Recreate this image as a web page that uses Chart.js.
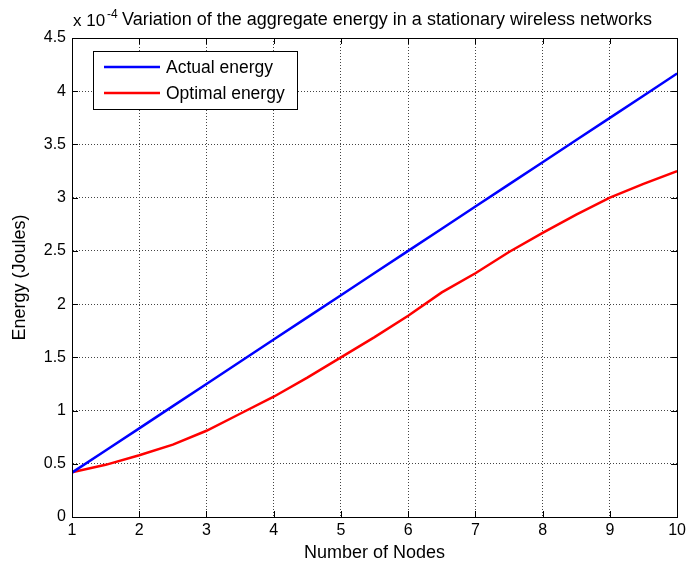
<!DOCTYPE html>
<html>
<head>
<meta charset="utf-8">
<script src="https://cdn.jsdelivr.net/npm/chart.js@4/dist/chart.umd.min.js"></script>
<style>
  html, body { margin: 0; padding: 0; background: #fff; }
  #wrap { position: relative; width: 690px; height: 568px; }
</style>
</head>
<body>
<div id="wrap"><canvas id="energyChart" width="690" height="568"></canvas></div>
<script>
// Energy vs number of nodes (values in units of 1e-4 J)
const nodes = [1, 1.5, 2, 2.5, 3, 3.5, 4, 4.5, 5, 5.5, 6, 6.5, 7, 7.5, 8, 8.5, 9, 9.5, 10];
const actualEnergy = [0.417, 0.625, 0.833, 1.042, 1.25, 1.458, 1.667, 1.875, 2.083, 2.292, 2.5,
                      2.708, 2.917, 3.125, 3.333, 3.542, 3.75, 3.958, 4.167];
const optimalEnergy = [0.42, 0.49, 0.58, 0.68, 0.81, 0.97, 1.13, 1.31, 1.50, 1.69, 1.89,
                       2.11, 2.29, 2.49, 2.67, 2.84, 3.00, 3.13, 3.25];
const seriesLabels = ['Actual energy', 'Optimal energy'];
const titleText = 'Variation of the aggregate energy in a stationary wireless networks';

const FONT = '"Liberation Sans", Arial, sans-serif';

function toPoints(xs, ys) {
    return xs.map(function (x, i) { return { x: x, y: ys[i] }; });
}

// frame, inward ticks, legend box and the "x 10^-4" title
const matlabDecor = {
    id: 'matlabDecor',
    afterDraw: function (chart) {
        const ctx = chart.ctx;
        const a = chart.chartArea;
        const xs = chart.scales.x, ys = chart.scales.y;
        ctx.save();

        // inward tick marks on all four sides
        ctx.strokeStyle = '#000';
        ctx.lineWidth = 1;
        ctx.beginPath();
        xs.ticks.forEach(function (t) {
            const px = Math.round(xs.getPixelForValue(t.value)) + 0.5;
            ctx.moveTo(px, a.bottom); ctx.lineTo(px, a.bottom - 6);
            ctx.moveTo(px, a.top); ctx.lineTo(px, a.top + 6);
        });
        ys.ticks.forEach(function (t) {
            const py = Math.round(ys.getPixelForValue(t.value)) + 0.5;
            ctx.moveTo(a.left, py); ctx.lineTo(a.left + 6, py);
            ctx.moveTo(a.right, py); ctx.lineTo(a.right - 6, py);
        });
        ctx.stroke();

        // box
        ctx.strokeRect(Math.round(a.left) + 0.5, Math.round(a.top) + 0.5,
                       Math.round(a.right - a.left), Math.round(a.bottom - a.top));

        // legend
        const lx = 93, ly = 51, lw = 204, lh = 58;
        ctx.fillStyle = '#fff';
        ctx.fillRect(lx, ly, lw, lh);
        ctx.strokeRect(lx + 0.5, ly + 0.5, lw, lh);
        ctx.font = '17.5px ' + FONT;
        ctx.textBaseline = 'middle';
        chart.data.datasets.forEach(function (ds, i) {
            const yy = ly + 16 + i * 26;
            ctx.strokeStyle = ds.borderColor;
            ctx.lineWidth = 2.5;
            ctx.beginPath();
            ctx.moveTo(lx + 11, yy); ctx.lineTo(lx + 67, yy);
            ctx.stroke();
            ctx.fillStyle = '#000';
            ctx.fillText(ds.label, lx + 73, yy + 1);
        });

        // title with exponent
        ctx.fillStyle = '#000';
        ctx.textBaseline = 'alphabetic';
        ctx.font = '17px ' + FONT;
        ctx.fillText('x 10', 73, 26);
        ctx.font = '12px ' + FONT;
        ctx.fillText('-4', 107, 18);
        ctx.font = '18px ' + FONT;
        ctx.fillText(titleText, 122, 25);
        ctx.restore();
    }
};

new Chart(document.getElementById('energyChart'), {
    type: 'line',
    data: {
        datasets: [
            {
                label: seriesLabels[0],
                data: toPoints(nodes, actualEnergy),
                borderColor: '#0000ff',
                borderWidth: 2.5,
                pointRadius: 0,
                tension: 0,
                fill: false
            },
            {
                label: seriesLabels[1],
                data: toPoints(nodes, optimalEnergy),
                borderColor: '#ff0000',
                borderWidth: 2.5,
                pointRadius: 0,
                tension: 0,
                fill: false
            }
        ]
    },
    options: {
        responsive: false,
        animation: false,
        layout: { padding: { left: 0, top: 38, right: 11, bottom: 0 } },
        plugins: {
            legend: { display: false },
            tooltip: { enabled: false },
            title: { display: false }
        },
        scales: {
            x: {
                type: 'linear',
                min: 1, max: 10,
                ticks: { stepSize: 1, color: '#000', font: { family: FONT, size: 16 }, padding: 4 },
                grid: { color: '#444', drawTicks: false, lineWidth: 1 },
                border: { display: true, color: '#000', dash: [1, 2] },
                title: { display: true, text: 'Number of Nodes', color: '#000',
                         font: { family: FONT, size: 18 }, padding: { top: 2, bottom: 4 } },
                afterFit: function (s) { s.height = 51; }
            },
            y: {
                min: 0, max: 4.5,
                ticks: { stepSize: 0.5, color: '#000', font: { family: FONT, size: 16 }, padding: 6,
                         callback: function (v) { return String(v); } },
                grid: { color: '#444', drawTicks: false, lineWidth: 1 },
                border: { display: true, color: '#000', dash: [1, 2] },
                title: { display: true, text: 'Energy (Joules)', color: '#000',
                         font: { family: FONT, size: 18 }, padding: { top: 9, bottom: 0 } },
                afterFit: function (s) { s.width = 72; }
            }
        }
    },
    plugins: [matlabDecor]
});
</script>
</body>
</html>
